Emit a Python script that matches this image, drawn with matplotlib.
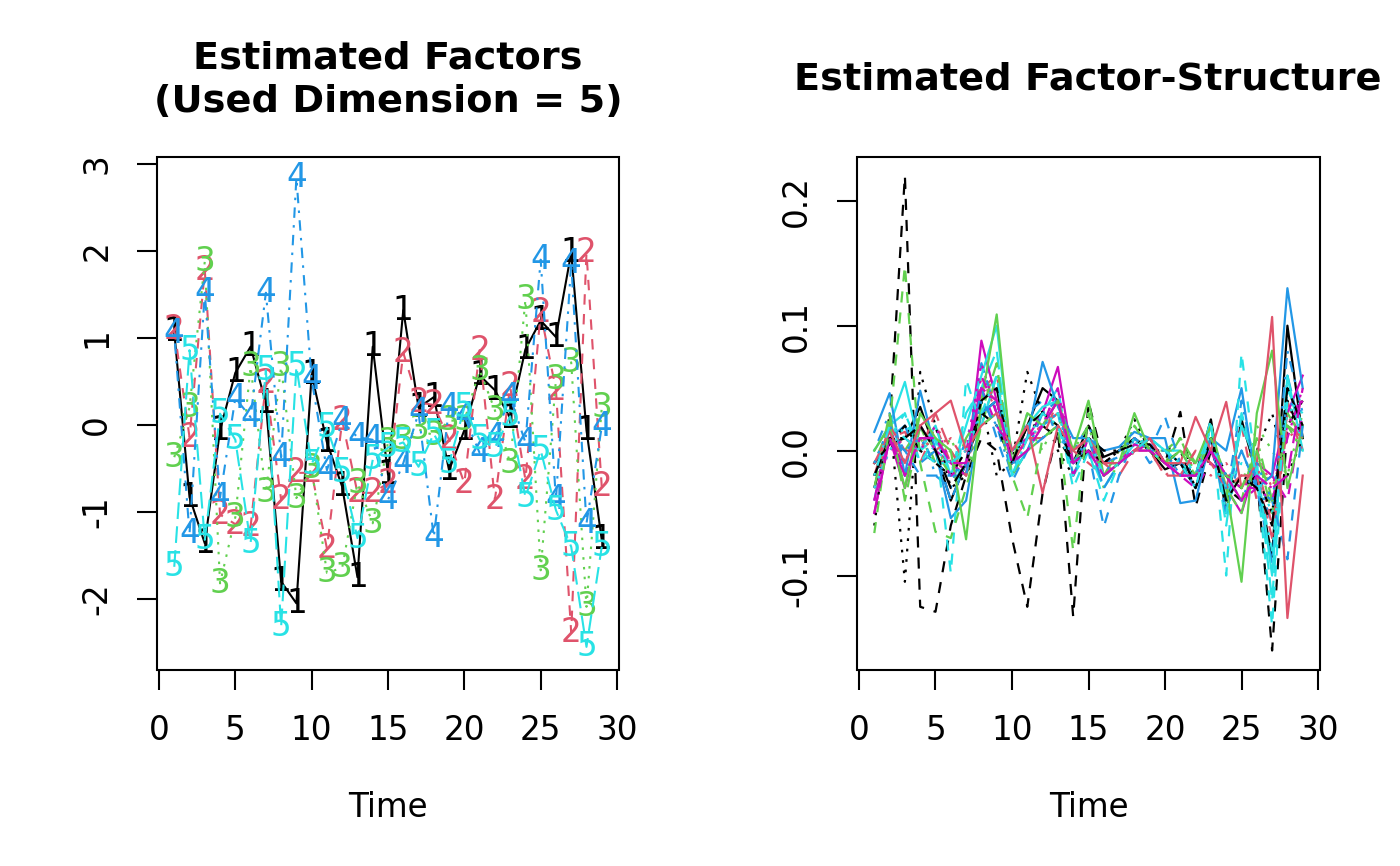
import matplotlib
matplotlib.use("Agg")
import matplotlib.pyplot as plt
from matplotlib.patches import Rectangle
import numpy as np

plt.rcParams['font.family'] = ['DejaVu Sans']

time = list(range(1, 30))

# ---- left panel: estimated factors ----
f1 = [1.07, -0.83, -1.36, -0.06, 0.6, 0.9, 0.25, -1.8, -2.05, 0.58, -0.2, -0.71, -1.75, 0.9, -0.57,
      1.32, 0.2, 0.32, -0.52, -0.06, 0.57, 0.4, 0.08, 0.87, 1.2, 1.01, 1.98, -0.06, -1.32]
f2 = [1.1, -0.14, 1.78, -1.03, -1.14, -1.17, 0.48, -0.86, -0.55, -0.55, -1.42, 0.05, -0.78, -0.78, -0.67,
      0.83, 0.26, 0.23, -0.17, -0.67, 0.86, -0.86, 0.44, -0.63, 1.29, 0.4, -2.39, 1.98, -0.71]
f3 = [-0.37, 0.2, 1.88, -1.82, -1.06, 0.67, -0.78, 0.67, -0.84, -0.5, -1.7, -1.64, -0.67, -1.13, -0.2,
      -0.17, -0.05, -0.12, 0.05, 0.05, 0.63, 0.17, -0.44, 1.44, -1.67, 0.52, 0.72, -2.09, 0.2]
f4 = [1.05, -1.25, 1.52, -0.83, 0.31, 0.09, 1.52, -0.37, 2.84, 0.52, -0.52, 0.04, -0.14, -0.17, -0.86,
      -0.44, 0.14, -1.29, 0.2, 0.1, -0.32, -0.14, 0.32, -0.2, 1.9, -0.86, 1.86, -1.13, -0.02]
f5 = [-1.63, 0.86, -1.32, 0.13, -0.17, -1.36, 0.63, -2.32, 0.67, -0.45, -0.03, -0.55, -1.3, -0.4, -0.26,
      -0.2, -0.48, -0.1, -0.44, 0.2, -0.17, -0.26, 0.1, -0.83, -0.29, -0.98, -1.4, -2.55, -1.4]
factors = [f1, f2, f3, f4, f5]
factor_labels = ['1', '2', '3', '4', '5']

# ---- right panel: estimated factor-structure (30 columns) ----
s00 = [-0.01, 0.005, 0.01, 0.035, 0.0, -0.04, -0.01, 0.03, 0.04, -0.01, 0.02, 0.05, 0.04, -0.01, 0.02, -0.005, 0.0, 0.01, 0.0, -0.015, -0.01, -0.02, 0.025, -0.05, 0.025, -0.02, -0.085, 0.10, 0.01]
s01 = [-0.03, 0.01, 0.015, -0.01, 0.02, -0.01, -0.02, 0.05, 0.06, 0.0, 0.01, 0.02, 0.03, 0.0, -0.01, -0.02, -0.01, 0.005, 0.01, -0.01, -0.02, 0.0, -0.01, -0.03, 0.02, -0.04, -0.05, 0.04, 0.0]
s02 = [-0.02, 0.02, -0.02, 0.01, -0.01, 0.01, -0.02, 0.03, 0.05, -0.01, 0.02, 0.0, 0.03, -0.02, 0.01, -0.03, -0.01, 0.02, 0.0, -0.01, 0.01, -0.02, 0.0, -0.02, -0.03, 0.02, 0.0, -0.02, 0.03]
s03 = [0.0, 0.03, -0.01, 0.02, -0.02, -0.03, 0.01, 0.04, 0.02, -0.02, 0.03, 0.04, 0.01, 0.0, 0.02, -0.01, -0.005, 0.01, -0.01, 0.0, -0.02, -0.01, 0.01, -0.04, 0.04, -0.02, -0.06, 0.08, 0.03]
s04 = [-0.04, 0.02, 0.03, 0.0, 0.01, -0.02, 0.03, 0.05, 0.08, -0.02, 0.01, 0.03, 0.05, -0.02, 0.0, -0.03, -0.01, 0.0, 0.01, -0.01, -0.01, -0.03, 0.02, -0.06, 0.03, -0.01, -0.12, 0.05, 0.02]
s05 = [-0.05, 0.01, -0.03, 0.02, 0.0, -0.01, -0.02, 0.088, 0.04, -0.01, 0.01, 0.03, 0.067, -0.01, 0.01, -0.02, -0.01, 0.0, 0.005, -0.01, -0.02, -0.02, 0.0, -0.03, -0.05, -0.01, -0.02, 0.03, 0.06]
s06 = [-0.03, 0.02, 0.22, -0.125, -0.129, -0.06, -0.02, 0.01, 0.0, -0.07, -0.125, -0.034, 0.017, -0.133, 0.039, -0.01, -0.01, 0.0, 0.01, -0.01, 0.031, -0.045, 0.0, -0.03, -0.04, -0.02, -0.16, 0.02, 0.04]
s07 = [-0.02, 0.0, 0.01, 0.0, 0.02, 0.0, -0.01, 0.06, 0.03, 0.0, 0.02, 0.01, 0.02, -0.01, 0.0, -0.02, 0.0, 0.01, 0.0, -0.02, -0.01, -0.01, -0.02, -0.01, -0.03, 0.0, -0.03, 0.01, 0.02]
s08 = [-0.01, 0.02, 0.0, 0.02, -0.01, 0.0, -0.02, 0.02, 0.06, -0.01, 0.0, 0.02, 0.03, 0.0, 0.02, -0.02, -0.01, 0.01, 0.0, 0.0, 0.01, -0.02, 0.0, -0.02, -0.04, 0.01, -0.04, 0.02, 0.0]
s09 = [-0.02, 0.01, 0.02, -0.01, 0.0, -0.04, -0.01, 0.07, 0.03, -0.02, 0.0, 0.03, 0.04, -0.02, 0.01, -0.03, -0.01, 0.0, 0.01, -0.01, -0.01, -0.03, 0.01, -0.05, 0.0, -0.03, -0.09, 0.06, 0.01]
s10 = [0.0, 0.02, 0.055, 0.0, 0.02, -0.02, 0.02, 0.06, 0.10, -0.01, 0.02, 0.035, 0.04, -0.01, 0.01, -0.01, -0.01, 0.005, 0.01, 0.0, -0.01, -0.02, 0.02, -0.04, 0.02, -0.01, -0.1, 0.06, 0.0]
s11 = [-0.04, 0.02, -0.02, 0.01, 0.01, -0.01, 0.0, 0.05, 0.02, 0.0, 0.01, 0.02, 0.04, -0.01, 0.0, -0.02, -0.01, 0.005, 0.0, -0.01, -0.02, -0.03, -0.01, -0.02, -0.04, -0.03, -0.02, -0.04, 0.03]
s12 = [-0.06, 0.03, -0.105, 0.063, 0.02, -0.03, -0.02, 0.04, -0.02, -0.01, 0.063, 0.03, 0.0, -0.02, 0.02, -0.01, 0.0, 0.025, 0.0, 0.0, -0.01, -0.02, 0.0, -0.02, -0.03, 0.0, 0.03, -0.02, 0.01]
s13 = [-0.02, 0.01, 0.0, 0.01, 0.0, 0.01, -0.01, 0.04, 0.05, -0.01, 0.01, 0.02, 0.03, 0.0, 0.01, -0.01, -0.01, 0.0, 0.01, -0.01, -0.01, -0.01, 0.0, -0.02, -0.02, -0.01, -0.06, 0.03, 0.0]
s14 = [-0.03, 0.03, -0.04, 0.02, 0.0, -0.02, 0.01, 0.03, 0.07, -0.02, 0.0, 0.01, 0.02, -0.01, 0.01, -0.02, 0.0, 0.01, 0.0, -0.01, 0.01, -0.01, 0.01, -0.03, -0.05, 0.0, -0.05, 0.03, 0.01]
s15 = [0.015, 0.046, -0.02, 0.048, 0.0, -0.054, -0.04, 0.03, 0.04, 0.0, 0.01, 0.071, 0.035, 0.01, 0.01, 0.0, 0.003, 0.015, 0.01, 0.01, -0.042, -0.04, 0.01, 0.0, 0.05, -0.03, -0.02, 0.13, 0.05]
s16 = [-0.02, 0.01, 0.03, -0.01, 0.01, -0.098, 0.057, 0.02, 0.06, -0.02, 0.0, 0.02, 0.03, -0.03, 0.0, -0.04, -0.01, 0.0, 0.01, 0.0, 0.0, -0.02, 0.025, -0.10, 0.078, -0.02, -0.14, 0.05, 0.02]
s17 = [-0.03, 0.0, 0.01, 0.0, 0.02, -0.01, 0.0, 0.07, 0.03, 0.0, 0.01, 0.02, 0.05, 0.0, 0.01, -0.02, -0.01, 0.0, 0.01, -0.01, -0.01, -0.02, 0.0, -0.02, -0.03, -0.02, -0.03, 0.02, 0.04]
s18 = [-0.01, 0.005, 0.02, 0.0, -0.01, -0.02, 0.0, 0.03, 0.02, -0.01, 0.02, 0.02, 0.01, -0.01, 0.01, 0.0, 0.0, 0.01, 0.0, -0.01, 0.0, -0.03, 0.01, -0.02, -0.03, -0.02, -0.05, 0.04, 0.01]
s19 = [-0.02, 0.02, 0.0, 0.0, 0.03, 0.0, -0.02, 0.05, 0.04, -0.01, 0.01, 0.01, 0.04, -0.01, 0.0, -0.01, -0.02, 0.0, 0.0, -0.02, -0.02, 0.0, -0.01, -0.03, -0.02, -0.02, -0.07, 0.02, 0.01]
s20 = [0.0, 0.02, -0.03, 0.03, 0.01, 0.0, -0.071, 0.04, 0.109, -0.01, 0.03, 0.02, 0.04, 0.0, 0.04, -0.02, -0.01, 0.03, 0.0, -0.01, 0.0, -0.01, 0.02, -0.03, -0.105, 0.03, 0.08, -0.03, 0.02]
s21 = [-0.01, 0.01, 0.0, -0.02, -0.02, -0.02, -0.02, 0.05, 0.01, -0.025, 0.0, 0.01, 0.02, -0.01, 0.0, -0.061, -0.02, 0.01, 0.0, 0.027, -0.01, -0.02, 0.0, -0.03, 0.0, -0.03, -0.04, -0.087, 0.02]
s22 = [-0.03, 0.0, 0.02, 0.01, 0.0, -0.01, 0.0, 0.04, 0.05, 0.0, 0.01, 0.02, 0.03, -0.01, 0.0, -0.02, -0.01, 0.01, 0.0, -0.01, -0.01, -0.02, 0.01, -0.03, -0.01, -0.02, -0.05, 0.03, 0.04]
s23 = [-0.04, 0.01, -0.01, 0.02, 0.0, -0.02, -0.01, 0.06, 0.03, -0.01, 0.01, 0.02, 0.05, -0.02, 0.01, -0.02, -0.01, 0.0, 0.01, -0.01, -0.02, -0.02, 0.0, -0.02, -0.03, -0.03, -0.04, 0.01, 0.05]
s24 = [-0.02, 0.01, 0.01, 0.02, 0.0, -0.03, -0.01, 0.04, 0.05, -0.01, 0.02, 0.03, 0.02, -0.01, 0.0, -0.01, 0.0, 0.005, 0.005, -0.01, -0.01, -0.03, 0.01, -0.04, -0.02, -0.03, -0.06, 0.05, 0.02]
s25 = [-0.01, 0.015, -0.01, 0.02, 0.03, 0.04, 0.0, 0.02, 0.03, 0.0, 0.02, -0.034, 0.02, 0.0, 0.01, -0.01, -0.01, 0.0, 0.01, -0.01, -0.01, 0.027, 0.0, 0.039, -0.03, -0.01, 0.107, -0.134, -0.02]
s26 = [-0.066, 0.02, 0.148, -0.01, -0.065, -0.07, -0.03, 0.02, 0.03, -0.02, -0.054, 0.01, 0.02, -0.08, 0.03, -0.02, -0.01, 0.02, 0.0, 0.0, 0.0, -0.02, 0.01, -0.02, -0.03, 0.0, -0.04, 0.02, 0.01]
s27 = [-0.01, 0.02, 0.0, 0.01, -0.01, -0.02, -0.01, 0.04, 0.02, -0.01, 0.0, 0.02, 0.03, -0.01, 0.01, -0.02, 0.0, 0.01, 0.0, 0.0, -0.02, -0.02, 0.01, -0.02, -0.04, -0.01, -0.04, 0.04, 0.03]
s28 = [-0.02, 0.02, 0.01, 0.0, -0.01, -0.01, 0.0, 0.03, 0.06, -0.02, 0.01, 0.03, 0.02, -0.02, 0.01, -0.02, -0.01, 0.0, 0.01, 0.0, -0.01, -0.03, 0.02, -0.05, 0.03, -0.02, -0.08, 0.04, 0.03]
s29 = [-0.05, 0.01, -0.02, 0.01, 0.01, -0.01, -0.01, 0.05, 0.04, -0.01, 0.0, 0.02, 0.04, -0.01, 0.0, -0.02, -0.01, 0.0, 0.0, -0.01, -0.02, -0.02, 0.0, -0.02, -0.04, -0.02, -0.03, -0.02, 0.05]
structure = [s00, s01, s02, s03, s04, s05, s06, s07, s08, s09, s10, s11, s12, s13, s14,
             s15, s16, s17, s18, s19, s20, s21, s22, s23, s24, s25, s26, s27, s28, s29]

left_ticks_y = [-2, -1, 0, 1, 2, 3]
right_ticks_y = [-0.1, 0.0, 0.1, 0.2]
right_tick_labels = ['-0.1', '0.0', '0.1', '0.2']
x_ticks = [0, 5, 10, 15, 20, 25, 30]

# R palette & line types
palette = ['#000000', '#DF536B', '#61D04F', '#2297E6', '#28E2E5', '#CD0BBC']
ltys = ['-', (0, (5, 4.5)), (0, (1.2, 3.5)), (0, (1.2, 3.5, 5, 3.5)), (0, (8, 3.5))]

W, H = 1400, 866
fig = plt.figure(figsize=(14, 8.66), dpi=100)

def frac_box(x0, x1, y0, y1):
    return [x0 / W, 1 - y1 / H, (x1 - x0) / W, (y1 - y0) / H]

axL = fig.add_axes(frac_box(157, 619, 157, 670))
axR = fig.add_axes(frac_box(857, 1320, 157, 670))

FS = 23.5
LW = 1.5

for i, (ser, lab) in enumerate(zip(factors, factor_labels)):
    col = palette[i % 6]
    axL.plot(time, ser, color=col, linestyle=ltys[i % 5], lw=LW, zorder=2 + i)
    for t, v in zip(time, ser):
        axL.text(t, v, lab, color=col, fontsize=FS, ha='center', va='center', zorder=2 + i)

for j, ser in enumerate(structure):
    axR.plot(time, ser, color=palette[j % 6], linestyle=ltys[j % 5], lw=1.6, zorder=2)

def style(ax, ylim, yticks, ylabels):
    ax.set_xlim(-0.13, 30.13)
    ax.set_ylim(*ylim)
    for s in ax.spines.values():
        s.set_visible(False)
    ax.add_patch(Rectangle((0, 0), 1, 1, transform=ax.transAxes, fill=False,
                           lw=1.5, edgecolor='black', clip_on=False, zorder=20))
    ax.set_xticks(x_ticks)
    ax.set_xticklabels([str(v) for v in x_ticks])
    ax.set_yticks(yticks)
    ax.set_yticklabels(ylabels, rotation=90, va='center')
    ax.tick_params(axis='both', direction='out', length=14.5, width=1.5, labelsize=FS, pad=17)
    ax.set_xlabel('Time', fontsize=FS, labelpad=32)

style(axL, (-2.816, 3.08), left_ticks_y, [str(v) for v in left_ticks_y])
style(axR, (-0.1756, 0.235), right_ticks_y, right_tick_labels)

fig.text(388 / W, 1 - 80 / H, 'Estimated Factors\n(Used Dimension = 5)', ha='center', va='center',
         fontsize=27.5, fontweight='bold', linespacing=1.28)
fig.text(1088 / W, 1 - 80 / H, 'Estimated Factor-Structure', ha='center', va='center',
         fontsize=27.5, fontweight='bold')

fig.savefig('out.png', dpi=100)
